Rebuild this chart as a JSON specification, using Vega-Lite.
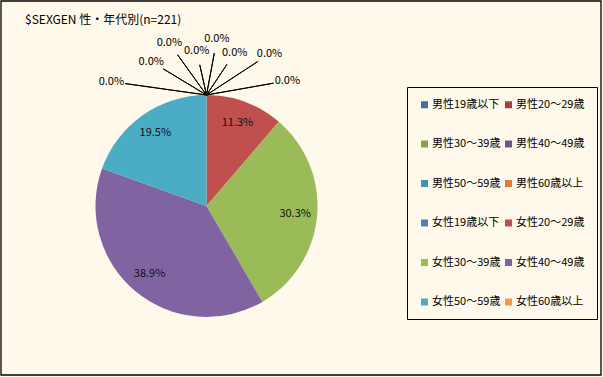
{
  "$schema": "https://vega.github.io/schema/vega-lite/v6.json",
  "width": 600,
  "height": 374,
  "autosize": {"type": "none"},
  "padding": {"left": 1, "top": 1, "right": 2, "bottom": 2},
  "background": "#FEF9EA",
  "config": {
    "view": {"stroke": "#000000", "strokeWidth": 1.2},
    "font": "Noto Sans CJK JP"
  },
  "title": {
    "text": "$SEXGEN 性・年代別(n=221)",
    "anchor": "start",
    "frame": "group",
    "orient": "top",
    "offset": 0,
    "dx": 24,
    "dy": 27,
    "fontSize": 12,
    "fontWeight": "normal",
    "font": "Noto Sans CJK JP",
    "color": "#000000"
  },
  "data": {
    "values": [
      {"no": 1, "cat": "男性19歳以下", "pct": 0},
      {"no": 2, "cat": "男性20～29歳", "pct": 0},
      {"no": 3, "cat": "男性30～39歳", "pct": 0},
      {"no": 4, "cat": "男性40～49歳", "pct": 0},
      {"no": 5, "cat": "男性50～59歳", "pct": 0},
      {"no": 6, "cat": "男性60歳以上", "pct": 0},
      {"no": 7, "cat": "女性19歳以下", "pct": 0},
      {"no": 8, "cat": "女性20～29歳", "pct": 0.113},
      {"no": 9, "cat": "女性30～39歳", "pct": 0.303},
      {"no": 10, "cat": "女性40～49歳", "pct": 0.389},
      {"no": 11, "cat": "女性50～59歳", "pct": 0.195},
      {"no": 12, "cat": "女性60歳以上", "pct": 0}
    ]
  },
  "resolve": {"scale": {"theta": "independent", "radius": "independent"}},
  "layer": [
    {
      "transform": [{"filter": "datum.no == 1"}],
      "mark": {"type": "rect", "fillOpacity": 0, "stroke": "#000000", "strokeWidth": 1.3},
      "encoding": {}
    },
    {
      "mark": {"type": "arc", "x": 205.5, "y": 205, "outerRadius": 111, "innerRadius": 0},
      "encoding": {
        "theta": {"field": "pct", "type": "quantitative", "stack": true},
        "order": {"field": "no", "type": "quantitative"},
        "color": {
          "field": "cat",
          "type": "nominal",
          "scale": {
            "domain": ["男性19歳以下", "男性20～29歳", "男性30～39歳", "男性40～49歳", "男性50～59歳", "男性60歳以上", "女性19歳以下", "女性20～29歳", "女性30～39歳", "女性40～49歳", "女性50～59歳", "女性60歳以上"],
            "range": ["#416FA6", "#A8423F", "#86A44A", "#6E548D", "#3D96AE", "#DA8137", "#4F81BD", "#C0504D", "#9BBB59", "#8064A2", "#4BACC6", "#F79646"]
          },
          "legend": {
            "title": null,
            "orient": "none",
            "legendX": 406,
            "legendY": 86,
            "columns": 2,
            "direction": "horizontal",
            "symbolType": "square",
            "symbolSize": 49,
            "symbolStrokeWidth": 0,
            "labelFontSize": 11,
            "labelFont": "Noto Sans CJK JP",
            "labelColor": "#000000",
            "labelOffset": 2,
            "padding": 12,
            "rowPadding": 27.5,
            "columnPadding": 2,
            "strokeColor": "#000000",
            "fillColor": "#FEF9EA"
          }
        }
      }
    },
    {
      "transform": [{"filter": "datum.pct > 0"}],
      "mark": {"type": "text", "x": 205.5, "y": 205, "radius": 89, "fontSize": 11, "font": "Noto Sans CJK JP", "color": "#111111"},
      "encoding": {
        "theta": {"field": "pct", "type": "quantitative", "stack": true},
        "order": {"field": "no", "type": "quantitative"},
        "text": {"field": "pct", "type": "quantitative", "format": ".1%"}
      }
    },
    {
      "transform": [
        {"filter": "datum.pct == 0"},
        {"window": [{"op": "row_number", "as": "k"}], "sort": [{"field": "no"}]},
        {"calculate": "(-82 + (datum.k - 1) * 162 / 7) * PI / 180", "as": "a"},
        {"calculate": "(datum.k % 2 == 1 ? 42 : 30) + 40 * pow(abs(datum.a) / 1.43, 2)", "as": "d"}
      ],
      "mark": {"type": "arc", "x": 205.5, "y": 94, "innerRadius": 0, "stroke": "#000000", "strokeWidth": 1, "fillOpacity": 0},
      "encoding": {
        "theta": {"field": "a", "type": "quantitative", "scale": null, "stack": null},
        "theta2": {"field": "a"},
        "radius": {"field": "d", "type": "quantitative", "scale": null}
      }
    },
    {
      "transform": [
        {"filter": "datum.pct == 0"},
        {"window": [{"op": "row_number", "as": "k"}], "sort": [{"field": "no"}]},
        {"calculate": "(-82 + (datum.k - 1) * 162 / 7) * PI / 180", "as": "a"},
        {"calculate": "(datum.k % 2 == 1 ? 42 : 30) + 40 * pow(abs(datum.a) / 1.43, 2) + 14", "as": "dt"}
      ],
      "mark": {"type": "text", "x": 205.5, "y": 94, "fontSize": 11, "font": "Noto Sans CJK JP", "color": "#000000"},
      "encoding": {
        "theta": {"field": "a", "type": "quantitative", "scale": null, "stack": null},
        "radius": {"field": "dt", "type": "quantitative", "scale": null},
        "text": {"field": "pct", "type": "quantitative", "format": ".1%"}
      }
    }
  ]
}
